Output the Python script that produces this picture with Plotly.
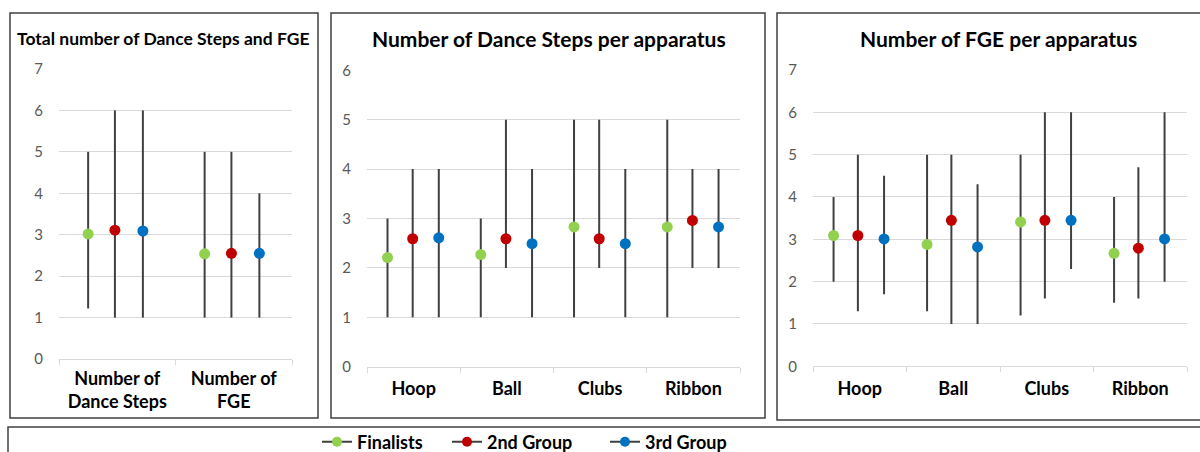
import plotly.graph_objects as go

W, H = 1200, 452

series_names = ["Finalists", "2nd Group", "3rd Group"]
series_colors = ["#92D050", "#C00000", "#0070C0"]

# Panel 1: Total number of Dance Steps and FGE
total_categories = ["Number of<br>Dance Steps", "Number of<br>FGE"]
total_mean_finalists = [3.02, 2.54]
total_min_finalists = [1.22, 1.0]
total_max_finalists = [5.0, 5.0]
total_mean_2nd = [3.11, 2.55]
total_min_2nd = [1.0, 1.0]
total_max_2nd = [6.0, 5.0]
total_mean_3rd = [3.09, 2.55]
total_min_3rd = [1.0, 1.0]
total_max_3rd = [6.0, 4.0]

# Panel 2: Number of Dance Steps per apparatus
apparatus = ["Hoop", "Ball", "Clubs", "Ribbon"]
dance_mean_finalists = [2.21, 2.27, 2.83, 2.83]
dance_min_finalists = [1.0, 1.0, 1.0, 1.0]
dance_max_finalists = [3.0, 3.0, 5.0, 5.0]
dance_mean_2nd = [2.59, 2.59, 2.59, 2.96]
dance_min_2nd = [1.0, 2.0, 2.0, 2.0]
dance_max_2nd = [4.0, 5.0, 5.0, 4.0]
dance_mean_3rd = [2.61, 2.49, 2.49, 2.83]
dance_min_3rd = [1.0, 1.0, 1.0, 2.0]
dance_max_3rd = [4.0, 4.0, 4.0, 4.0]

# Panel 3: Number of FGE per apparatus
fge_mean_finalists = [3.09, 2.88, 3.41, 2.67]
fge_min_finalists = [2.0, 1.3, 1.2, 1.5]
fge_max_finalists = [4.0, 5.0, 5.0, 4.0]
fge_mean_2nd = [3.09, 3.45, 3.45, 2.79]
fge_min_2nd = [1.3, 1.0, 1.6, 1.6]
fge_max_2nd = [5.0, 5.0, 6.0, 4.7]
fge_mean_3rd = [3.01, 2.82, 3.45, 3.01]
fge_min_3rd = [1.7, 1.0, 2.3, 2.0]
fge_max_3rd = [4.5, 4.3, 6.0, 6.0]

panels = [
    dict(title="Total number of Dance Steps and FGE", cats=total_categories,
         ymax=7, offsets=[-0.25, -0.02, 0.22],
         series=[(total_mean_finalists, total_min_finalists, total_max_finalists),
                 (total_mean_2nd, total_min_2nd, total_max_2nd),
                 (total_mean_3rd, total_min_3rd, total_max_3rd)]),
    dict(title="Number of Dance Steps per apparatus", cats=apparatus,
         ymax=6, offsets=[-0.28, -0.01, 0.27],
         series=[(dance_mean_finalists, dance_min_finalists, dance_max_finalists),
                 (dance_mean_2nd, dance_min_2nd, dance_max_2nd),
                 (dance_mean_3rd, dance_min_3rd, dance_max_3rd)]),
    dict(title="Number of FGE per apparatus", cats=apparatus,
         ymax=7, offsets=[-0.28, -0.02, 0.26],
         series=[(fge_mean_finalists, fge_min_finalists, fge_max_finalists),
                 (fge_mean_2nd, fge_min_2nd, fge_max_2nd),
                 (fge_mean_3rd, fge_min_3rd, fge_max_3rd)]),
]

# layout geometry in pixels
plot_px = [
    dict(x0=59, x1=292, ytop=69, ybot=359, title_x=163, title_size=17.5, xticklen=3),
    dict(x0=367, x1=740, ytop=70.3, ybot=366.7, title_x=549, title_size=21, xticklen=6),
    dict(x0=813, x1=1187, ytop=70, ybot=366.3, title_x=998, title_size=21, xticklen=6),
]
boxes_px = [(10, 13, 318, 418), (331, 13, 765, 418), (777, 13, 1215, 420), (8, 427, 1215, 470)]
legend_x_px = [317, 447, 605]

FONT = "Lato, 'Open Sans', sans-serif"
fig = go.Figure()
layout_axes = {}
annotations = []

for i, (p, g) in enumerate(zip(panels, plot_px)):
    n = i + 1
    xa = "x" if n == 1 else f"x{n}"
    ya = "y" if n == 1 else f"y{n}"
    for (mean, lo, hi), name, color, off in zip(p["series"], series_names, series_colors, p["offsets"]):
        xs = [k + off for k in range(len(p["cats"]))]
        fig.add_trace(go.Scatter(
            x=xs, y=mean, mode="markers", xaxis=xa, yaxis=ya, showlegend=False,
            marker=dict(color=color, size=11, line=dict(width=0)),
            error_y=dict(type="data", symmetric=False,
                         array=[h - m for h, m in zip(hi, mean)],
                         arrayminus=[m - l for m, l in zip(mean, lo)],
                         color="#404040", thickness=2, width=0),
            name=name, hoverinfo="skip"))
    xkey = "xaxis" if n == 1 else f"xaxis{n}"
    ykey = "yaxis" if n == 1 else f"yaxis{n}"
    layout_axes[xkey] = dict(
        domain=[g["x0"] / W, g["x1"] / W], anchor=ya,
        range=[-0.5, len(p["cats"]) - 0.5],
        tickmode="array", tickvals=list(range(len(p["cats"]))), ticktext=p["cats"],
        ticks="outside", ticklen=g["xticklen"], tickcolor="rgba(0,0,0,0)",
        tickfont=dict(family=FONT, size=18, color="#000000", weight="bold"),
        showgrid=False, zeroline=False, showline=True, linecolor="#D9D9D9", linewidth=1,
        minor=dict(tickmode="array", tickvals=[k - 0.5 for k in range(len(p["cats"]) + 1)],
                   ticks="outside", ticklen=5, tickcolor="#D9D9D9", tickwidth=1, showgrid=False),
        fixedrange=True)
    layout_axes[ykey] = dict(
        domain=[1 - g["ybot"] / H, 1 - g["ytop"] / H], anchor=xa,
        range=[0, p["ymax"]], tickmode="linear", tick0=0, dtick=1,
        ticks="outside", ticklen=12, tickcolor="rgba(0,0,0,0)",
        tickfont=dict(family=FONT, size=15, color="#595959"),
        showgrid=True, gridcolor="#D9D9D9", gridwidth=1, zeroline=False, showline=False,
        fixedrange=True)
    annotations.append(dict(
        text=f"<b>{p['title']}</b>", x=g["title_x"] / W, y=1 - 38 / H,
        xref="paper", yref="paper", xanchor="center", yanchor="middle", showarrow=False,
        font=dict(family=FONT, size=g["title_size"], color="#000000")))

# legend-only traces, one legend each so they sit where the reference puts them
legend_layout = {}
for j, (name, color, lx) in enumerate(zip(series_names, series_colors, legend_x_px)):
    lid = "legend" if j == 0 else f"legend{j + 1}"
    fig.add_trace(go.Scatter(
        x=[None], y=[None], mode="lines+markers", name=name, xaxis="x3", yaxis="y3",
        legend=lid, line=dict(color="#404040", width=2), marker=dict(color=color, size=10)))
    legend_layout[lid] = dict(
        orientation="h", x=lx / W, y=1 - 442 / H, xanchor="left", yanchor="middle",
        font=dict(family=FONT, size=18, color="#000000", weight="bold"),
        itemclick=False, itemdoubleclick=False, bgcolor="rgba(0,0,0,0)", itemwidth=30)

shapes = []
for (x0, y0, x1, y1) in boxes_px:
    shapes.append(dict(type="rect", xref="paper", yref="paper",
                       x0=x0 / W, x1=x1 / W, y0=1 - y1 / H, y1=1 - y0 / H,
                       line=dict(color="#404040", width=1.5), fillcolor="rgba(0,0,0,0)"))

fig.update_layout(
    width=W, height=H, margin=dict(l=0, r=0, t=0, b=0, autoexpand=False),
    paper_bgcolor="white", plot_bgcolor="white",
    font=dict(family=FONT),
    showlegend=True,
    annotations=annotations, shapes=shapes, **layout_axes, **legend_layout)

fig.write_html("out.html", config={"displayModeBar": False, "staticPlot": True},
               post_script="document.body.style.margin='0';document.body.style.overflow='hidden';")
